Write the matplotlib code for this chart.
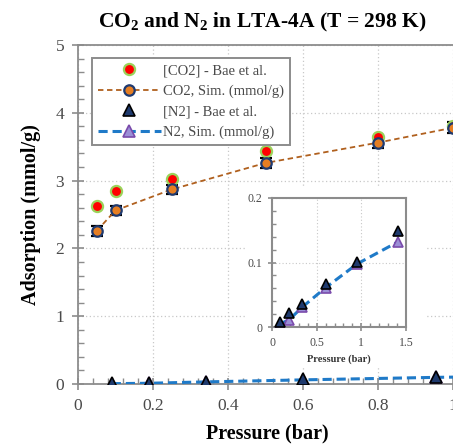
import matplotlib
matplotlib.use("Agg")
import matplotlib.pyplot as plt
from matplotlib.ticker import MultipleLocator
from matplotlib.patches import Rectangle
from matplotlib.lines import Line2D

plt.rcParams['font.family'] = ['Liberation Serif', 'DejaVu Serif']
plt.rcParams['mathtext.fontset'] = 'custom'
plt.rcParams['mathtext.rm'] = 'Liberation Serif'
plt.rcParams['mathtext.bf'] = 'Liberation Serif:bold'
plt.rcParams['mathtext.default'] = 'bf'

# ---- data ----
co2_p = [0.05, 0.10, 0.25, 0.50, 0.80, 1.00]
co2_exp = [2.63, 2.84, 3.03, 3.43, 3.65, 3.80]
co2_sim = [2.26, 2.56, 2.87, 3.26, 3.56, 3.78]
co2_err = [0.07, 0.07, 0.07, 0.08, 0.08, 0.08]

n2_p = [0.09, 0.19, 0.34, 0.60, 0.955, 1.41]
n2_exp = [0.008, 0.021, 0.036, 0.067, 0.101, 0.149]
n2_sim = [0.005, 0.011, 0.031, 0.061, 0.098, 0.132]

title = "CO$_2$ and N$_2$ in LTA-4A (T = 298 K)"
xlabel = "Pressure (bar)"
ylabel = "Adsorption (mmol/g)"
legend_labels = ["[CO2] - Bae et al.", "CO2, Sim. (mmol/g)",
                 "[N2] - Bae et al.", "N2, Sim. (mmol/g)"]

# ---- styles ----
RED = '#ff0000'; GREEN = '#9bd35a'
ORANGE = '#e67e22'; NAVY = '#1f3a70'; BROWN = '#b0601e'
TRI = '#1f3a6e'; BLUE = '#1f7ac8'; LAV = '#9b8fd6'; PURPLE = '#7a4bab'
SPINE = '#8c8c8c'; TXT = '#4a4a4a'

W, H = 453, 446
fig = plt.figure(figsize=(W / 100, H / 100), dpi=100)

x0, y_top, y_bot, pxu = 78, 45, 384, 375
ax = fig.add_axes([x0 / W, (H - y_bot) / H, 1.2 * pxu / W, (y_bot - y_top) / H])
ax.set_xlim(0, 1.2)
ax.set_ylim(0, 5)

ax.grid(True, which='major', linestyle=(0, (1, 2)), color='#c8c8c8', linewidth=0.9)
ax.set_axisbelow(True)

ax.plot(co2_p, co2_exp, linestyle='none', marker='o', markersize=8,
        markerfacecolor=RED, markeredgecolor=GREEN, markeredgewidth=1.6, zorder=4)
ax.errorbar(co2_p, co2_sim, yerr=co2_err, fmt='none', ecolor='black',
            elinewidth=1.0, capsize=4.5, capthick=1.6, zorder=3)
ax.plot(co2_p, co2_sim, linestyle=(0, (3, 2)), color=BROWN, linewidth=1.3,
        marker='o', markersize=7.5, markerfacecolor=ORANGE, markeredgecolor=NAVY,
        markeredgewidth=1.6, zorder=5)
ax.plot(n2_p, n2_sim, linestyle=(0, (3, 1.6)), color=BLUE, linewidth=2.2,
        marker='^', markersize=8, markerfacecolor=LAV, markeredgecolor=PURPLE,
        markeredgewidth=1.2, zorder=4)
ax.plot(n2_p, n2_exp, linestyle='none', marker='^', markersize=8.5,
        markerfacecolor=TRI, markeredgecolor='black', markeredgewidth=1.2, zorder=6)

ax.xaxis.set_minor_locator(MultipleLocator(0.04))
ax.yaxis.set_major_locator(MultipleLocator(1))
ax.yaxis.set_minor_locator(MultipleLocator(0.2))
ax.set_xticks([0, 0.2, 0.4, 0.6, 0.8, 1.0, 1.2])
ax.set_xticklabels(['0', '0.2', '0.4', '0.6', '0.8', '1', '1.2'])
ax.tick_params(which='major', direction='inout', length=8, width=1.2, color=SPINE,
               labelsize=12.5, labelcolor=TXT, pad=6)
ax.tick_params(which='minor', direction='in', length=4, width=1.0, color=SPINE)
for s in ['left', 'bottom', 'top']:
    ax.spines[s].set_color(SPINE)
    ax.spines[s].set_linewidth(1.3)
ax.spines['right'].set_visible(False)

ax.set_ylabel(ylabel, fontsize=14.5, fontweight='bold', labelpad=10)
ax.set_xlabel(xlabel, fontsize=14.5, fontweight='bold', labelpad=4)
ax.xaxis.set_label_coords((267 - x0) / (1.2 * pxu), -0.115)

fig.text(262 / W, 1 - 22 / H, title, ha='center', va='center',
         fontsize=15.5, fontweight='bold')

# legend
h1 = Line2D([], [], linestyle='none', marker='o', markersize=8,
            markerfacecolor=RED, markeredgecolor=GREEN, markeredgewidth=1.6)
h2 = Line2D([], [], linestyle=(0, (3, 2)), color=BROWN, linewidth=1.3, marker='o',
            markersize=7.5, markerfacecolor=ORANGE, markeredgecolor=NAVY, markeredgewidth=1.6)
h3 = Line2D([], [], linestyle='none', marker='^', markersize=8.5,
            markerfacecolor=TRI, markeredgecolor='black', markeredgewidth=1.2)
h4 = Line2D([], [], linestyle=(0, (3, 1.6)), color=BLUE, linewidth=2.2, marker='^',
            markersize=8, markerfacecolor=LAV, markeredgecolor=PURPLE, markeredgewidth=1.2)
leg = ax.legend([h1, h2, h3, h4], legend_labels, loc='upper left',
                bbox_to_anchor=((92 - x0) / (1.2 * pxu), 1 - (58 - y_top) / (y_bot - y_top)),
                fontsize=10.5, frameon=True, fancybox=False, framealpha=1,
                edgecolor=SPINE, handlelength=4.3, handletextpad=0.2,
                borderpad=0.4, labelspacing=0.5, borderaxespad=0)
leg.get_frame().set_linewidth(1.4)
for t in leg.get_texts():
    t.set_color(TXT)

# inset white background
fig.patches.append(Rectangle((245 / W, (H - 367) / H), (427 - 245) / W, (367 - 187) / H,
                             transform=fig.transFigure, facecolor='white',
                             edgecolor='none', zorder=2))

ix0, ix1, iy0, iy1 = 272, 406, 198, 327
ins = fig.add_axes([ix0 / W, (H - iy1) / H, (ix1 - ix0) / W, (iy1 - iy0) / H], zorder=3)
ins.set_xlim(0, 1.5)
ins.set_ylim(0, 0.2)
ins.grid(True, which='major', linestyle=(0, (1, 2)), color='#c8c8c8', linewidth=0.8)
ins.set_axisbelow(True)
ins.plot(n2_p, n2_sim, linestyle=(0, (3, 1.6)), color=BLUE, linewidth=2.2,
         marker='^', markersize=7.5, markerfacecolor=LAV, markeredgecolor=PURPLE,
         markeredgewidth=1.2, zorder=3)
ins.plot(n2_p, n2_exp, linestyle='none', marker='^', markersize=7.5,
         markerfacecolor=TRI, markeredgecolor='black', markeredgewidth=1.2, zorder=4)
ins.xaxis.set_minor_locator(MultipleLocator(0.1))
ins.yaxis.set_minor_locator(MultipleLocator(0.02))
ins.set_xticks([0, 0.5, 1.0, 1.5])
ins.set_xticklabels(['0', '0.5', '1', '1.5'])
ins.set_yticks([0, 0.1, 0.2])
ins.set_yticklabels(['0', '0.1', '0.2'])
ins.tick_params(which='major', direction='inout', length=6, width=1.2, color=SPINE,
                labelsize=8.5, labelcolor=TXT, pad=4)
ins.tick_params(which='minor', direction='in', length=3, width=1.0, color=SPINE)
for s in ins.spines.values():
    s.set_color(SPINE)
    s.set_linewidth(1.5)
ins.set_xlabel(xlabel, fontsize=7.5, fontweight='bold', color='#333333', labelpad=4)

fig.savefig('out.png', dpi=100)
